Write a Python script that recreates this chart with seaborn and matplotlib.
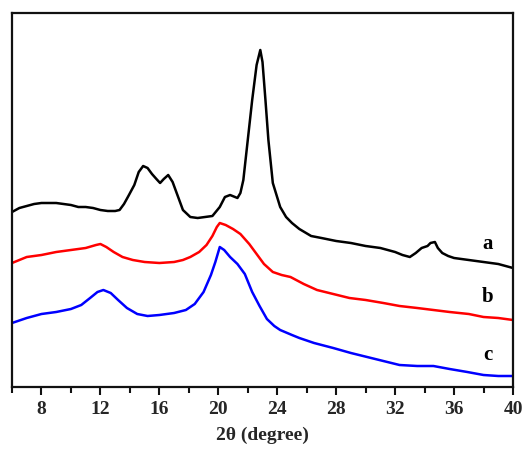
import numpy as np
import pandas as pd
import matplotlib
matplotlib.use("Agg")
import matplotlib.pyplot as plt
import seaborn as sns
from matplotlib.ticker import MultipleLocator

# ---- data (2theta in degrees, intensity in arbitrary units, offset stacked) ----
a_x = [6.0, 6.5, 7.0, 7.5, 8.0, 8.5, 9.0, 9.5, 10.0, 10.5, 11.0, 11.5, 12.0, 12.5, 13.0, 13.3,
       13.6, 13.9, 14.3, 14.6, 14.9, 15.2, 15.5, 15.8, 16.05, 16.3, 16.6, 16.9, 17.2, 17.6, 18.1,
       18.6, 19.1, 19.6, 20.1, 20.45, 20.8, 21.3, 21.5, 21.7, 22.0, 22.3, 22.6, 22.85, 23.0, 23.2,
       23.4, 23.7, 24.2, 24.6, 25.0, 25.5, 26.3, 27.0, 28.0, 29.0, 30.0, 31.0, 32.0, 32.5, 33.0,
       33.4, 33.8, 34.2, 34.4, 34.7, 34.9, 35.2, 35.6, 36.0, 37.0, 38.0, 39.0, 40.0]
a_y = [175, 179, 181, 183, 184, 184, 184, 183, 182, 180, 180, 179, 177, 176, 176, 177,
       183, 191, 202, 215, 221, 219, 213, 208, 204, 208, 212, 205, 193, 177, 170,
       169, 170, 171, 180, 190, 192, 189, 194, 207, 247, 287, 322, 337, 325, 287,
       247, 204, 180, 170, 164, 158, 151, 149, 146, 144, 141, 139, 135, 132, 130,
       134, 139, 141, 144, 145, 139, 134, 131, 129, 127, 125, 123, 119]

b_x = [6.0, 7.0, 8.0, 9.0, 10.0, 11.0, 11.7, 12.0, 12.4, 12.9, 13.5, 14.2, 15.0, 16.0, 17.0,
       17.6, 18.1, 18.7, 19.2, 19.6, 19.9, 20.1, 20.5, 21.0, 21.5, 22.1, 22.6, 23.1, 23.7, 24.3,
       24.9, 25.8, 26.7, 27.8, 28.9, 30.0, 31.2, 32.3, 33.5, 34.6, 35.7, 37.0, 38.0, 39.0, 40.0]
b_y = [124, 130, 132, 135, 137, 139, 142, 143, 140, 135, 130, 127, 125, 124, 125,
       127, 130, 135, 142, 151, 160, 164, 162, 158, 153, 143, 133, 123, 115, 112,
       110, 103, 97, 93, 89, 87, 84, 81, 79, 77, 75, 73, 70, 69, 67]

c_x = [6.0, 7.0, 8.0, 9.0, 10.0, 10.7, 11.3, 11.8, 12.2, 12.7, 13.2, 13.8, 14.5, 15.2, 16.0,
       17.0, 17.8, 18.4, 19.0, 19.5, 19.8, 20.1, 20.4, 20.8, 21.3, 21.8, 22.3, 22.8, 23.3, 23.8,
       24.2, 25.0, 25.5, 26.5, 27.8, 29.0, 30.1, 31.2, 32.3, 33.5, 34.6, 35.7, 36.9, 38.0, 39.0, 40.0]
c_y = [64, 69, 73, 75, 78, 82, 89, 95, 97, 94, 87, 79, 73, 71, 72,
       74, 77, 83, 95, 112, 125, 140, 137, 130, 123, 113, 95, 81, 68, 61,
       57, 52, 49, 44, 39, 34, 30, 26, 22, 21, 21, 18, 15, 12, 11, 11]

labels = ["a", "b", "c"]
colors = ["#000000", "#ff0000", "#0000ff"]
label_pos_y = [143, 90, 32]
x_ticks = [8, 12, 16, 20, 24, 28, 32, 36, 40]

df = pd.concat([
    pd.DataFrame({"theta": a_x, "I": a_y, "s": "a"}),
    pd.DataFrame({"theta": b_x, "I": b_y, "s": "b"}),
    pd.DataFrame({"theta": c_x, "I": c_y, "s": "c"}),
])

sns.set_style("ticks")
plt.rcParams["font.family"] = ["Liberation Serif", "DejaVu Serif"]
plt.rcParams["font.weight"] = "bold"

fig = plt.figure(figsize=(5.23, 4.49), dpi=100)
ax = fig.add_axes([12 / 523, 1 - 387 / 449, 501 / 523, 374 / 449])

sns.lineplot(data=df, x="theta", y="I", hue="s", palette=dict(zip(labels, colors)),
             linewidth=1.8, ax=ax, legend=False, sort=False, estimator=None)

ax.set_xlim(6, 40)
ax.set_ylim(0, 374)
ax.set_xticks(x_ticks)
ax.xaxis.set_minor_locator(MultipleLocator(2))
ax.set_yticks([])
ax.tick_params(axis="x", which="major", direction="out", length=6, width=1.5,
               labelsize=14, pad=4, color="#111111")
ax.tick_params(axis="x", which="minor", direction="out", length=4, width=1.5,
               color="#111111")
for lbl in ax.get_xticklabels():
    lbl.set_fontweight("bold")
for sp in ax.spines.values():
    sp.set_linewidth(1.6)
    sp.set_color("#111111")

ax.set_xlabel("2θ (degree)", fontsize=14, fontweight="bold", labelpad=6)
ax.set_ylabel("")

for lab, col, yy in zip(labels, colors, label_pos_y):
    ax.text(38.3, yy, lab, fontsize=15, fontweight="bold", ha="center", va="center",
            color="black")

fig.savefig("out.png", dpi=100)
